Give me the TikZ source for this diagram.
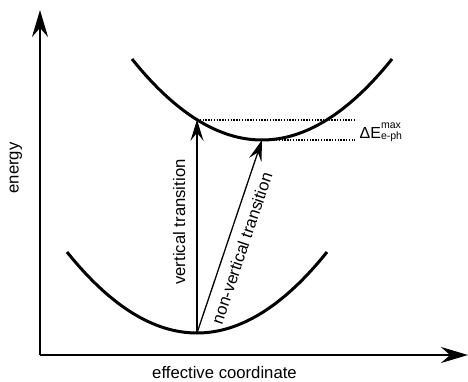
\documentclass[tikz,border=0pt]{standalone}
\usepackage{fontspec}
\setmainfont{Liberation Sans}
\usetikzlibrary{arrows.meta,calc}
\begin{document}
\begin{tikzpicture}[x=1pt,y=-1pt,
  axis/.style={line width=2pt,-{Stealth[length=27pt,width=16pt,inset=9pt]}},
  curve/.style={line width=3pt},
  trans/.style={line width=1.3pt,-{Stealth[length=21pt,width=13pt,inset=8pt]}},
  level/.style={line width=1.6pt,dash pattern=on 1.4pt off 1.4pt},
  lbl/.style={font=\fontsize{16.7}{20}\selectfont,inner sep=0pt}]
\useasboundingbox (0,0) rectangle (468,382);
\coordinate (o) at (40,355);
\coordinate (ytip) at (40,10);
\coordinate (xtip) at (468,355);
\coordinate (lo) at (197,333);
\coordinate (hi) at (262,140);
\coordinate (vt) at (197,119.8);
\coordinate (e1) at (355,119.8);
\coordinate (e2) at (355,140);
% axes
\draw[axis] (o) -- (ytip);
\draw[axis] (o) -- (xtip);
% parabolas (quadratic as cubic bezier)
\draw[curve] (67,252) .. controls (153.67,360) and (240.33,360) .. (327,252);
\draw[curve] (132,59) .. controls (218.67,167) and (305.33,167) .. (392,59);
% levels
\draw[level] (vt) -- (e1);
\draw[level] (hi) -- (e2);
% transitions
\draw[trans] (lo) -- (vt);
\draw[trans] (lo) -- (hi);
% labels
\node[lbl,rotate=90,anchor=base] (energy) at (18.5,168) {energy};
\node[lbl,anchor=base] (xlab) at (224.5,378.5) {effective coordinate};
\node[lbl,rotate=90,anchor=base] (vlab) at (185,222) {vertical transition};
\node[lbl,rotate=71.4,anchor=base] (nvlab) at (247.5,250.2) {non-vertical transition};
\node[anchor=base west,inner sep=0pt,font=\fontsize{16}{19}\selectfont] (de) at (359.5,138.5)
  {ΔE\rlap{\raisebox{9.5pt}{\fontsize{10.5}{11}\selectfont max}}\raisebox{-1pt}{\fontsize{10.5}{11}\selectfont e-ph}};
\end{tikzpicture}
\end{document}
